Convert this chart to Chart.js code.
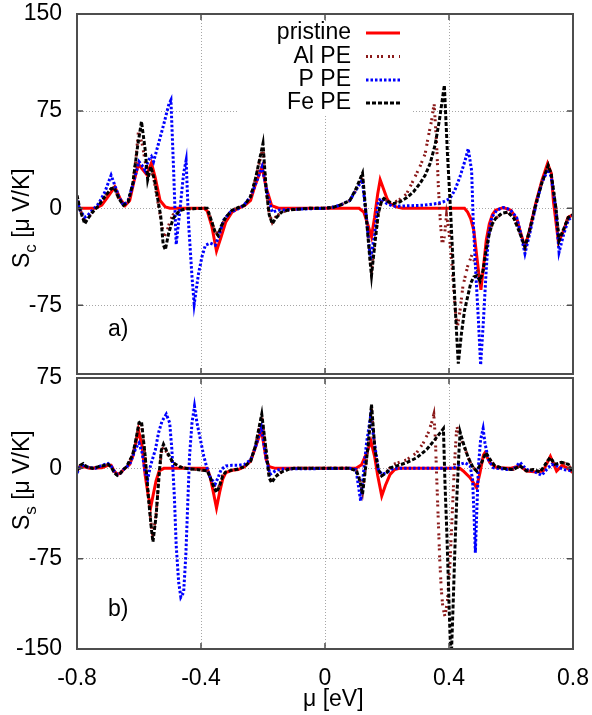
<!DOCTYPE html>
<html>
<head>
<meta charset="UTF-8">
<title>Seebeck S_c / S_s</title>
<script src="https://cdn.jsdelivr.net/npm/chart.js"></script>
<style>
  body { margin: 0; background: #fff; }
  .janela { position: relative; width: 592px; height: 715px; }
  canvas { position: absolute; left: 0; }
  #grafTopo { top: 0; }
  #grafBase { top: 355px; }
</style>
</head>
<body>
<div class="janela">
  <canvas id="grafTopo" width="592" height="380"></canvas>
  <canvas id="grafBase" width="592" height="360"></canvas>
</div>
<script>
// eixos
const xTicks = [-0.8, -0.4, 0, 0.4, 0.8];
const yTicksC = [-75, 0, 75, 150];
const yTicksS = [-150, -75, 0, 75];
const series = ['pristine', 'Al PE', 'P PE', 'Fe PE'];

// painel a) S_c  -- pares [mu (eV), S (uV/K)]
const pristinoC = [[-0.80,0],[-0.74,0],[-0.72,2.5],[-0.70,9],[-0.678,16.5],[-0.66,7],[-0.645,2],[-0.63,6],[-0.615,22],[-0.602,34],[-0.585,29],[-0.575,26],[-0.56,35],[-0.548,24],[-0.532,6],[-0.515,1],[-0.50,0],[-0.39,0],[-0.38,-2],[-0.365,-14],[-0.35,-33],[-0.335,-22],[-0.32,-10.5],[-0.30,-3],[-0.28,0],[-0.26,2],[-0.24,6],[-0.225,18],[-0.203,32],[-0.19,16],[-0.172,2],[-0.15,0],[0.11,0],[0.125,-3],[0.14,-14],[0.15,-22],[0.16,-7],[0.17,11],[0.178,22],[0.19,14],[0.20,7.5],[0.21,3.6],[0.23,1],[0.25,0],[0.45,0],[0.46,-3],[0.47,-8],[0.48,-17],[0.49,-38],[0.50,-58],[0.503,-63],[0.51,-48],[0.52,-25],[0.53,-12],[0.54,-5],[0.55,-1.5],[0.575,0.5],[0.60,-1.5],[0.62,-9],[0.63,-18],[0.645,-30],[0.66,-17],[0.68,4],[0.70,21.6],[0.718,34.5],[0.73,27],[0.737,5],[0.753,-26],[0.768,-18.5],[0.784,-7],[0.80,-5]];
const alC = [[-0.80,9],[-0.79,-1],[-0.775,-10],[-0.765,-7],[-0.75,-3],[-0.73,2],[-0.71,9],[-0.69,15],[-0.68,16],[-0.665,7.5],[-0.65,2.3],[-0.635,5],[-0.62,19],[-0.61,38],[-0.602,59],[-0.59,50],[-0.58,36],[-0.57,25],[-0.56,30],[-0.55,20],[-0.54,6],[-0.53,-8],[-0.52,-22],[-0.51,-18],[-0.50,-10],[-0.49,-5],[-0.47,-1.5],[-0.45,-0.5],[-0.38,0],[-0.37,-7],[-0.355,-18],[-0.345,-20],[-0.335,-14],[-0.32,-7],[-0.30,-1.5],[-0.28,0.5],[-0.26,2.3],[-0.24,9],[-0.225,22],[-0.20,47],[-0.19,15],[-0.18,-4],[-0.17,-11],[-0.16,-7],[-0.14,-3],[-0.12,-1.5],[-0.10,-1],[-0.05,0],[0.00,0],[0.03,1],[0.05,2.5],[0.08,6],[0.10,14],[0.121,24],[0.134,-8],[0.145,-36],[0.15,-48],[0.161,-25],[0.172,-4],[0.183,6],[0.19,7.5],[0.204,5],[0.22,4],[0.242,7],[0.263,11],[0.285,21.6],[0.306,32],[0.323,42],[0.333,55],[0.344,68],[0.352,81],[0.36,50],[0.366,15],[0.372,-10],[0.378,-28],[0.385,-22],[0.392,-5],[0.40,-18],[0.41,-45],[0.42,-78],[0.427,-92],[0.435,-80],[0.445,-60],[0.46,-45],[0.474,-36],[0.49,-46],[0.50,-56],[0.51,-48],[0.52,-31],[0.53,-19],[0.54,-11.5],[0.55,-8],[0.57,-4],[0.59,-3],[0.61,-8],[0.63,-20],[0.645,-30],[0.66,-17],[0.68,3],[0.70,20],[0.72,33],[0.73,26],[0.745,0],[0.755,-25],[0.77,-16],[0.785,-7],[0.80,-5]];
const pC = [[-0.80,6],[-0.79,-1.5],[-0.775,-7],[-0.765,-5.4],[-0.75,-1.5],[-0.73,3.6],[-0.71,12.6],[-0.69,25.5],[-0.68,19],[-0.665,9],[-0.65,2.3],[-0.635,6],[-0.62,18],[-0.61,27],[-0.60,36],[-0.59,33],[-0.58,29],[-0.57,37],[-0.56,40],[-0.553,36],[-0.537,50],[-0.52,65],[-0.504,80],[-0.497,83.5],[-0.488,27],[-0.48,-28],[-0.467,1],[-0.456,27],[-0.448,37],[-0.44,-12],[-0.429,-53],[-0.422,-74],[-0.408,-50.5],[-0.397,-37.6],[-0.386,-28.6],[-0.37,-27],[-0.354,-28.6],[-0.343,-22],[-0.327,-9],[-0.305,-3],[-0.284,-1],[-0.262,2.3],[-0.24,9],[-0.225,18],[-0.203,32],[-0.184,9],[-0.17,-3],[-0.15,-1.5],[-0.12,-1],[0.00,0],[0.03,1],[0.05,2.5],[0.08,6],[0.10,14],[0.12,22],[0.134,-8],[0.147,-40],[0.16,-20],[0.172,6],[0.183,7.5],[0.199,3.6],[0.22,1.5],[0.317,2.3],[0.36,3.6],[0.382,5],[0.403,7.5],[0.419,14],[0.435,24],[0.452,37],[0.462,46],[0.473,29],[0.478,-9],[0.486,-48],[0.495,-87],[0.502,-121],[0.511,-87],[0.52,-48],[0.527,-22],[0.538,-7],[0.554,-1.5],[0.575,0.5],[0.597,-1],[0.618,-7],[0.63,-18],[0.645,-35],[0.66,-20],[0.68,2],[0.70,20],[0.72,30],[0.73,24],[0.745,-2],[0.755,-34],[0.77,-20],[0.785,-9],[0.80,-6]];
const feC = [[-0.80,10],[-0.79,-1.5],[-0.775,-12],[-0.765,-8],[-0.75,-3],[-0.73,2],[-0.71,9],[-0.69,15],[-0.68,16],[-0.665,7.5],[-0.65,2.3],[-0.635,5],[-0.62,19],[-0.605,47],[-0.592,67],[-0.58,45],[-0.572,22],[-0.562,32],[-0.55,22],[-0.54,8],[-0.53,-6],[-0.522,-28],[-0.515,-32],[-0.505,-20],[-0.49,-8],[-0.47,-2],[-0.45,-0.5],[-0.38,0],[-0.37,-7],[-0.355,-18],[-0.345,-21],[-0.335,-14],[-0.32,-7],[-0.30,-1.5],[-0.28,0.5],[-0.26,2.3],[-0.24,9],[-0.225,22],[-0.20,50],[-0.19,15],[-0.18,-5],[-0.17,-12],[-0.16,-8],[-0.14,-3],[-0.12,-1.5],[-0.10,-1],[-0.05,0],[0.00,0],[0.03,1],[0.05,2.5],[0.08,6],[0.10,15],[0.121,27],[0.134,-9],[0.145,-40],[0.15,-52],[0.161,-27],[0.172,-4],[0.183,6],[0.19,7.5],[0.204,5],[0.22,3.6],[0.242,5],[0.263,8],[0.285,12.6],[0.306,19],[0.323,25.5],[0.339,34.5],[0.355,48.7],[0.369,68],[0.385,95],[0.395,42],[0.405,-1.5],[0.415,-53],[0.425,-99],[0.43,-120],[0.44,-97],[0.45,-79],[0.46,-68.5],[0.47,-58],[0.48,-53],[0.49,-52],[0.50,-56],[0.51,-48],[0.52,-32],[0.53,-19.6],[0.54,-12],[0.55,-8],[0.57,-4],[0.59,-3],[0.61,-8],[0.63,-20],[0.645,-30],[0.66,-17],[0.68,3],[0.70,20],[0.72,33],[0.73,26],[0.745,0],[0.755,-25],[0.77,-16],[0.785,-7],[0.80,-5]];

// painel b) S_s
const pristinoS = [[-0.80,-1],[-0.78,1.4],[-0.76,0],[-0.72,0.5],[-0.70,2.5],[-0.69,2.5],[-0.68,-2.2],[-0.67,-5],[-0.66,-4],[-0.65,-1],[-0.63,3.3],[-0.62,10],[-0.61,21],[-0.602,32],[-0.59,18.5],[-0.58,-6],[-0.57,-23],[-0.562,-32],[-0.555,-23],[-0.545,-10.5],[-0.535,-2.2],[-0.52,0],[-0.38,0],[-0.37,-7.7],[-0.36,-20],[-0.35,-33],[-0.34,-20],[-0.33,-9],[-0.32,-3.6],[-0.30,-1.6],[-0.28,-1],[-0.26,1.4],[-0.24,6],[-0.225,17],[-0.205,32],[-0.19,7.4],[-0.18,1.4],[-0.16,0],[0.10,0],[0.118,3],[0.135,13],[0.148,22.6],[0.16,10],[0.17,-6],[0.183,-23],[0.195,-14],[0.21,-5],[0.225,-1],[0.24,0],[0.435,0],[0.446,-2.2],[0.468,-7.7],[0.489,-16],[0.50,-3.6],[0.511,11],[0.516,13],[0.532,4.7],[0.554,0.5],[0.597,0],[0.629,2],[0.65,-2.2],[0.683,-3],[0.704,-2.2],[0.727,10],[0.747,-2.2],[0.765,2.5],[0.78,0.5],[0.80,-3.6]];
const alS = [[-0.80,-2],[-0.79,2],[-0.78,3.5],[-0.77,1.4],[-0.75,0],[-0.73,1.4],[-0.71,2.5],[-0.70,3],[-0.69,1.4],[-0.68,-3.6],[-0.67,-5.8],[-0.66,-4],[-0.65,-1],[-0.64,1.4],[-0.62,11],[-0.61,23],[-0.60,36],[-0.592,37],[-0.58,9],[-0.57,-22],[-0.56,-48],[-0.555,-57],[-0.545,-38],[-0.535,-5],[-0.528,13],[-0.521,18],[-0.51,13],[-0.50,8],[-0.49,4.5],[-0.47,1.4],[-0.45,0],[-0.38,-2],[-0.37,-7.7],[-0.36,-14],[-0.35,-19],[-0.34,-14],[-0.33,-6],[-0.32,-3],[-0.30,-1.5],[-0.28,-0.5],[-0.26,1.4],[-0.24,6],[-0.225,18],[-0.204,43],[-0.19,14],[-0.18,-7],[-0.172,-11],[-0.16,-6.5],[-0.14,-3],[-0.12,-1],[-0.10,0],[0.08,0],[0.102,-2],[0.112,-9],[0.121,-20],[0.14,20],[0.15,50],[0.161,15],[0.172,-1],[0.183,-6],[0.199,-3],[0.21,0.5],[0.22,3.3],[0.263,7],[0.296,13],[0.317,21],[0.333,29.5],[0.344,37.8],[0.351,44.7],[0.356,25],[0.36,-5],[0.365,-40],[0.37,-75],[0.375,-100],[0.38,-115],[0.387,-123],[0.395,-110],[0.403,-80],[0.41,-40],[0.417,0],[0.425,35],[0.435,26.7],[0.452,15.7],[0.473,2],[0.489,-2.2],[0.505,4.7],[0.519,13],[0.532,7.4],[0.548,2],[0.575,0],[0.607,-1],[0.629,2],[0.65,-2.2],[0.672,-1],[0.694,-3],[0.726,9],[0.742,3.3],[0.763,5],[0.785,3.3],[0.80,-3.6]];
const pS = [[-0.80,-4],[-0.79,1],[-0.78,2.5],[-0.76,0.5],[-0.74,0],[-0.72,2.5],[-0.70,4],[-0.69,2],[-0.68,-2.2],[-0.67,-5],[-0.66,-4],[-0.65,-1],[-0.63,3.3],[-0.62,10],[-0.61,17],[-0.60,21],[-0.59,13],[-0.58,-3.6],[-0.572,-9],[-0.563,2],[-0.547,15.7],[-0.537,29.5],[-0.526,39],[-0.512,45],[-0.501,37.8],[-0.494,15.7],[-0.486,-23],[-0.48,-64],[-0.472,-94.6],[-0.465,-107],[-0.456,-103],[-0.449,-72.5],[-0.443,-31],[-0.437,10],[-0.429,37.8],[-0.421,51.6],[-0.413,37.8],[-0.402,24],[-0.391,10],[-0.381,0.5],[-0.37,-7.7],[-0.354,-13],[-0.345,-7.7],[-0.335,-1],[-0.32,2],[-0.30,2.5],[-0.28,2.5],[-0.26,3.3],[-0.24,7],[-0.225,17],[-0.205,34],[-0.19,8],[-0.177,-5],[-0.16,-2],[-0.14,-0.5],[0.08,0],[0.10,-1],[0.115,-27],[0.134,21],[0.147,43],[0.161,18.5],[0.172,-1],[0.183,-5],[0.199,-3.6],[0.22,0],[0.414,0],[0.435,3.3],[0.452,4.7],[0.468,2],[0.476,-9],[0.481,-40],[0.485,-70],[0.489,-40],[0.495,2],[0.502,24],[0.51,33],[0.516,21],[0.527,7.4],[0.543,0.5],[0.586,-1],[0.607,-1],[0.629,5],[0.65,-1],[0.672,-2.2],[0.699,-5.8],[0.715,-1],[0.731,3.3],[0.747,2],[0.769,-1],[0.80,-2.2]];
const feS = [[-0.80,-2],[-0.79,2.5],[-0.78,4],[-0.77,1.4],[-0.75,0],[-0.73,1.4],[-0.71,2.5],[-0.70,3.3],[-0.69,1.4],[-0.68,-3.6],[-0.67,-5.8],[-0.66,-4],[-0.65,-1],[-0.64,1.4],[-0.62,11.6],[-0.61,24],[-0.60,37.8],[-0.592,39],[-0.58,10],[-0.57,-23],[-0.56,-50.5],[-0.555,-61],[-0.545,-40],[-0.535,-5],[-0.528,15],[-0.521,20],[-0.51,14],[-0.50,9],[-0.49,4.7],[-0.47,1.4],[-0.45,0],[-0.38,-2],[-0.37,-7.7],[-0.36,-14.6],[-0.35,-20],[-0.34,-14.6],[-0.33,-6.3],[-0.32,-3],[-0.30,-1.5],[-0.28,-0.5],[-0.26,1.4],[-0.24,6],[-0.225,18],[-0.204,45],[-0.19,15],[-0.18,-8],[-0.172,-12],[-0.16,-7],[-0.14,-3],[-0.12,-1],[-0.10,0],[0.08,0],[0.102,-2.2],[0.112,-10],[0.121,-21.5],[0.14,21],[0.15,53],[0.161,15.7],[0.172,-1],[0.183,-6.3],[0.199,-3.6],[0.21,0.5],[0.231,2],[0.263,4.7],[0.296,8.8],[0.328,15.7],[0.355,24],[0.382,33],[0.387,-12],[0.393,-53],[0.398,-94.6],[0.403,-136],[0.407,-160],[0.414,-108],[0.419,-67],[0.425,-25.6],[0.432,13],[0.436,30],[0.446,21],[0.462,8.8],[0.478,0.5],[0.489,-2.2],[0.505,4.7],[0.519,13],[0.532,7.4],[0.548,2],[0.575,0],[0.607,-1],[0.629,2],[0.65,-2.2],[0.672,-1],[0.694,-3],[0.726,9],[0.742,3.3],[0.763,5],[0.785,3.3],[0.80,-3.6]];

// estilo das curvas
const cores = ['#ff0000', '#8b1a1a', '#0000ff', '#000000'];
const tracos = [[], [2, 2, 2, 5], [2.5, 2], [4, 2]];
const fonte = '"Liberation Sans", Arial, Helvetica, sans-serif';

Chart.defaults.font.family = fonte;
Chart.defaults.color = '#000';

function montarDatasets(listas) {
    return listas.map(function (pts, i) {
        return {
            label: series[i],
            data: pts.map(p => ({ x: p[0], y: p[1] })),
            borderColor: cores[i],
            borderWidth: 3,
            borderDash: tracos[i],
            pointRadius: 0,
            showLine: true,
            fill: false,
            tension: 0,
            clip: 0,
            order: 3 - i
        };
    });
}

// moldura, ticks para dentro, legenda e titulos (estilo gnuplot)
const decoracao = {
    id: 'decoracao',
    beforeDatasetsDraw(chart, args, o) {
        if (!o.legenda) return;
        const ctx = chart.ctx;
        ctx.save();
        ctx.fillStyle = '#fff';
        ctx.fillRect(237, 22, 176, 93);
        ctx.restore();
    },
    afterDatasetsDraw(chart, args, o) {
        const ctx = chart.ctx, a = chart.chartArea;
        const sx = chart.scales.x, sy = chart.scales.y;
        ctx.save();
        ctx.setLineDash([]);
        ctx.strokeStyle = '#4d4d4d';
        ctx.lineWidth = 1.5;
        ctx.beginPath();
        xTicks.forEach(function (v) {
            if (v <= sx.min || v >= sx.max) return;
            const p = sx.getPixelForValue(v);
            ctx.moveTo(p, a.top); ctx.lineTo(p, a.top + 6);
            ctx.moveTo(p, a.bottom); ctx.lineTo(p, a.bottom - 6);
        });
        o.yTicks.forEach(function (v) {
            if (v <= sy.min || v >= sy.max) return;
            const p = sy.getPixelForValue(v);
            ctx.moveTo(a.left, p); ctx.lineTo(a.left + 6, p);
            ctx.moveTo(a.right, p); ctx.lineTo(a.right - 6, p);
        });
        ctx.stroke();
        ctx.lineWidth = 2;
        ctx.strokeRect(a.left, a.top, a.right - a.left, a.bottom - a.top);

        ctx.fillStyle = '#000';
        ctx.textBaseline = 'alphabetic';
        ctx.textAlign = 'left';

        // titulo do eixo y, girado
        ctx.save();
        ctx.translate(29, o.tituloY);
        ctx.rotate(-Math.PI / 2);
        ctx.font = '23px ' + fonte;
        ctx.fillText('S', 0, 0);
        let w = ctx.measureText('S').width;
        ctx.font = '17px ' + fonte;
        ctx.fillText(o.indice, w, 7);
        w += ctx.measureText(o.indice).width;
        ctx.font = '23px ' + fonte;
        ctx.fillText(' [\u03bc V/K]', w, 0);
        ctx.restore();

        ctx.font = '23px ' + fonte;
        ctx.fillText(o.painel, 108, o.painelY);

        if (o.eixoX) {
            ctx.fillText('\u03bc [eV]', 303, o.eixoXY);
        }

        if (o.legenda) {
            const linhas = [33, 56.5, 80, 103];
            series.forEach(function (nome, i) {
                ctx.textAlign = 'right';
                ctx.textBaseline = 'middle';
                ctx.fillText(nome, 351, linhas[i]);
                ctx.beginPath();
                ctx.setLineDash(tracos[i]);
                ctx.strokeStyle = cores[i];
                ctx.lineWidth = 3;
                ctx.moveTo(366, linhas[i]);
                ctx.lineTo(400, linhas[i]);
                ctx.stroke();
            });
        }
        ctx.restore();
    }
};

// sem folga extra das etiquetas: a area do grafico fica onde o padding manda
function semFolga(s) {
    s.paddingTop = 0; s.paddingBottom = 0; s.paddingLeft = 0; s.paddingRight = 0;
}

function opcoes(yMin, yMax, yTicks, base, extra) {
    const grade = { color: '#a6a6a6', lineWidth: 1, drawTicks: false };
    const borda = { display: false, dash: [1, 2] };
    return {
        responsive: false,
        animation: false,
        devicePixelRatio: 1,
        layout: { autoPadding: false, padding: { top: base ? 23 : 14, right: 19, bottom: 0, left: 0 } },
        plugins: {
            legend: { display: false },
            tooltip: { enabled: false },
            decoracao: extra
        },
        scales: {
            x: {
                type: 'linear', min: -0.8, max: 0.8,
                afterBuildTicks: s => { s.ticks = xTicks.map(v => ({ value: v })); },
                afterFit: s => { s.height = base ? 66 : 6; semFolga(s); },
                ticks: {
                    display: base,
                    font: { size: 23 },
                    color: '#000',
                    padding: 16,
                    maxRotation: 0,
                    callback: v => (v === 0 ? '0' : v.toFixed(1))
                },
                grid: grade,
                border: borda
            },
            y: {
                min: yMin, max: yMax,
                afterBuildTicks: s => { s.ticks = yTicks.map(v => ({ value: v })); },
                afterFit: s => { s.width = 77; semFolga(s); },
                ticks: { font: { size: 23 }, color: '#000', padding: 15, callback: v => String(v) },
                grid: grade,
                border: borda
            }
        }
    };
}

new Chart(document.getElementById('grafTopo'), {
    type: 'scatter',
    data: { datasets: montarDatasets([pristinoC, alC, pC, feC]) },
    options: opcoes(-128, 150, yTicksC, false,
        { legenda: true, yTicks: yTicksC, tituloY: 268, indice: 'c', painel: 'a)', painelY: 336 }),
    plugins: [decoracao]
});

new Chart(document.getElementById('grafBase'), {
    type: 'scatter',
    data: { datasets: montarDatasets([pristinoS, alS, pS, feS]) },
    options: opcoes(-150, 75, yTicksS, true,
        { legenda: false, yTicks: yTicksS, tituloY: 175, indice: 's', painel: 'b)', painelY: 261, eixoX: true, eixoXY: 351 }),
    plugins: [decoracao]
});
</script>
</body>
</html>
